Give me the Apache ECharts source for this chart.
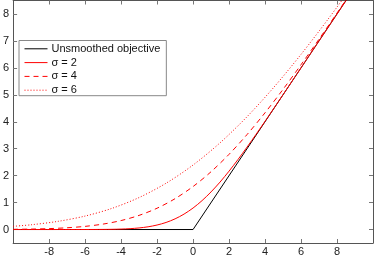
<!DOCTYPE html>
<html>
<head>
<meta charset="utf-8">
<script src="https://cdn.jsdelivr.net/npm/echarts@6/dist/echarts.min.js"></script>
<style>
html,body{margin:0;padding:0;background:#fff;}
#c{width:374px;height:257px;}
</style>
</head>
<body>
<div id="c"></div>
<script>
// ---- data ----
var seriesNames = ['Unsmoothed objective', '\u03c3 = 2', '\u03c3 = 4', '\u03c3 = 6'];

var xs0 = [-10, 0, 10];
var ys0 = [0, 0, 10];

var xs2 = [-10, -6, -5.5, -5, -4.5, -4, -3.5, -3, -2.5, -2, -1.5, -1, -0.5, 0, 0.5, 1, 1.5, 2, 2.5, 3, 3.5, 4, 4.5, 5, 5.5, 6, 10];
var ys2 = [0, 0.001, 0.002, 0.004, 0.008, 0.017, 0.032, 0.059, 0.101, 0.167, 0.262, 0.396, 0.573, 0.798, 1.073, 1.396, 1.762, 2.167, 2.601, 3.059, 3.532, 4.017, 4.508, 5.004, 5.502, 6.001, 10];

var xs4 = [-10, -9, -8, -7, -6, -5, -4, -3, -2, -1, 0, 1, 2, 3, 4, 5, 6, 7, 8, 9, 10];
var ys4 = [0.008, 0.017, 0.034, 0.065, 0.117, 0.202, 0.333, 0.525, 0.791, 1.145, 1.596, 2.145, 2.791, 3.525, 4.333, 5.202, 6.117, 7.065, 8.034, 9.017, 10.008];

var xs6 = [-10, -9, -7.5, -6, -4.5, -3, -1.5, 0, 1.5, 3, 4.5, 6, 7.5, 9, 10];
var ys6 = [0.119, 0.176, 0.304, 0.500, 0.787, 1.187, 1.718, 2.394, 3.218, 4.187, 5.287, 6.500, 7.804, 9.176, 10.119];

var xTicks = [-8, -6, -4, -2, 0, 2, 4, 6, 8];
var yTicks = [0, 1, 2, 3, 4, 5, 6, 7, 8];

function pairs(xs, ys) { return xs.map(function (x, i) { return [x, ys[i]]; }); }

var FONT = '"Liberation Sans", Arial, Helvetica, sans-serif';
var AX = '#555';
var TK = '#777';

function baseX(pos, showLabel) {
  return {
    type: 'value', position: pos, min: -10, max: 10,
    axisLine: { show: true, onZero: false, lineStyle: { color: AX, width: 1 } },
    axisTick: { show: true, inside: true, length: 4, customValues: xTicks, lineStyle: { color: TK } },
    axisLabel: { show: showLabel, customValues: xTicks, margin: 3, color: '#222', fontSize: 11, fontFamily: FONT },
    splitLine: { show: false }
  };
}
function baseY(pos, showLabel) {
  return {
    type: 'value', position: pos, min: -0.5, max: 8.5,
    axisLine: { show: true, onZero: false, lineStyle: { color: AX, width: 1 } },
    axisTick: { show: true, inside: true, length: 4, customValues: yTicks, lineStyle: { color: TK } },
    axisLabel: { show: showLabel, customValues: yTicks, margin: 4, color: '#222', fontSize: 11, fontFamily: FONT },
    splitLine: { show: false }
  };
}

var chart = echarts.init(document.getElementById('c'), null, { renderer: 'canvas' });
chart.setOption({
  animation: false,
  backgroundColor: '#fff',
  grid: { left: 8, right: 1, top: 0.5, bottom: 13, containLabel: false },
  xAxis: [baseX('bottom', true), baseX('top', false)],
  yAxis: [baseY('left', true), baseY('right', false)],
  legend: {
    orient: 'vertical', left: 19, top: 40.5,
    data: seriesNames,
    itemWidth: 23, itemHeight: 12, itemGap: 2.8,
    padding: [2.8, 6, 0, 5],
    backgroundColor: '#fff', borderColor: '#888', borderWidth: 1,
    itemStyle: { opacity: 0 },
    lineStyle: { width: 1 },
    textStyle: { color: '#111', fontSize: 11, fontFamily: FONT, padding: [0, 0, 0, -1] }
  },
  series: [
    { name: seriesNames[0], type: 'line', data: pairs(xs0, ys0), symbol: 'none', clip: true,
      lineStyle: { color: '#000', width: 1 }, itemStyle: { color: '#000' } },
    { name: seriesNames[1], type: 'line', data: pairs(xs2, ys2), symbol: 'none', smooth: 0.3, clip: true,
      lineStyle: { color: '#ff0000', width: 1 }, itemStyle: { color: '#ff0000' } },
    { name: seriesNames[2], type: 'line', data: pairs(xs4, ys4), symbol: 'none', smooth: 0.3, clip: true,
      lineStyle: { color: '#ff0000', width: 1, type: [5, 4] }, itemStyle: { color: '#ff0000' } },
    { name: seriesNames[3], type: 'line', data: pairs(xs6, ys6), symbol: 'none', smooth: 0.3, clip: true,
      lineStyle: { color: '#ff0000', width: 1, type: [1, 2] }, itemStyle: { color: '#ff0000' } }
  ]
});
</script>
</body>
</html>
